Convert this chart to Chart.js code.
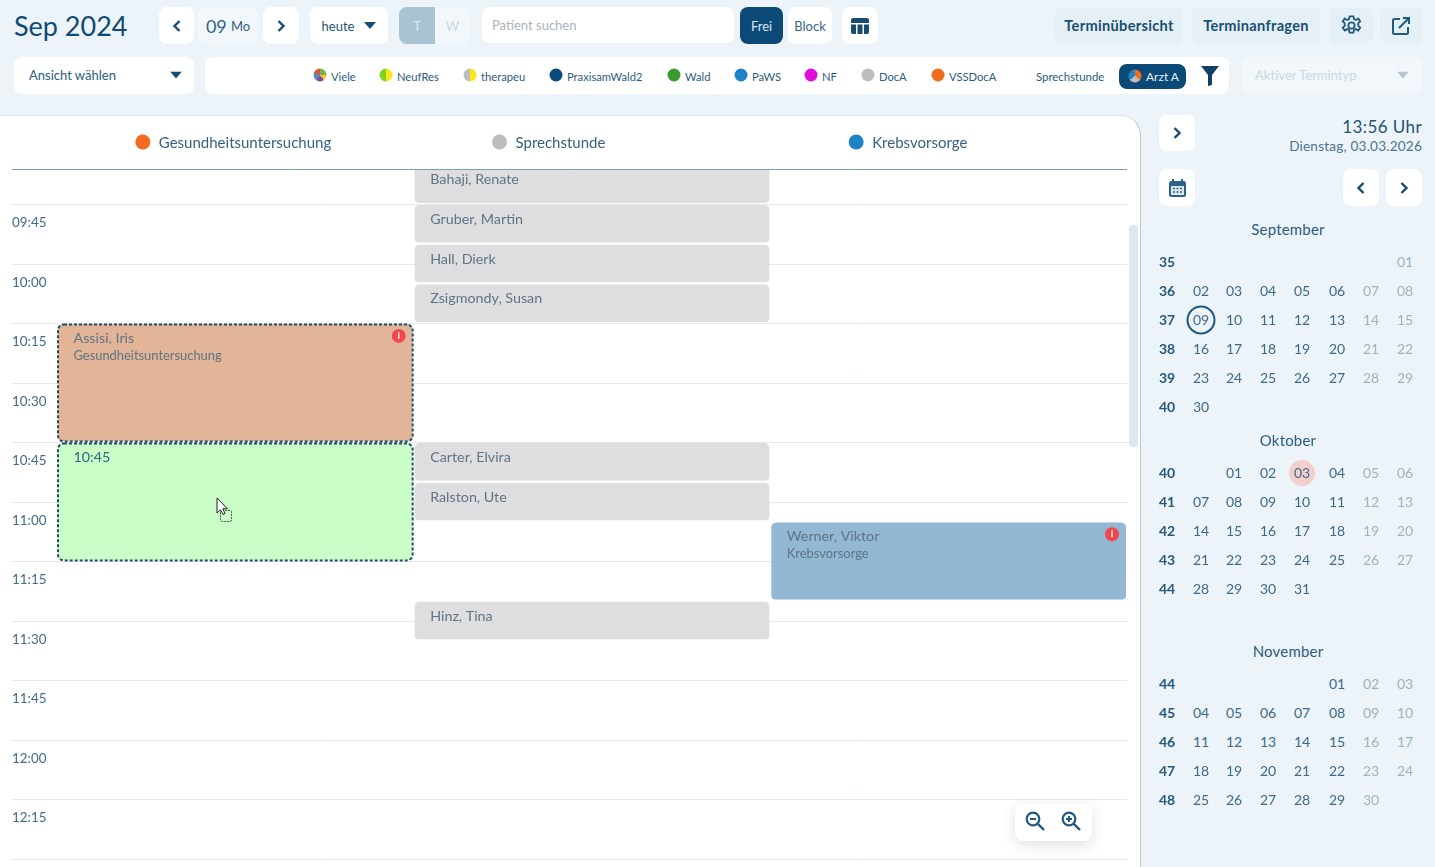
<!DOCTYPE html>
<html lang="de">
<head>
<meta charset="utf-8">
<title>Terminkalender</title>
<script src="https://cdn.jsdelivr.net/npm/chart.js@4/dist/chart.umd.min.js"></script>
<style>
  html, body { margin: 0; padding: 0; width: 1435px; height: 867px; overflow: hidden; background: #edf4f9; font-family: Lato, sans-serif; color: #1f5375; }
  .b { position: absolute; display: flex; align-items: center; justify-content: center; box-sizing: border-box; white-space: nowrap; border-radius: 8px; }
  .w { background: #fff; }
  .l { background: #f2f7fb; }
  .m { background: #e4eff6; font-weight: 700; font-size: 14.600px; letter-spacing: .3px; color: #1a4f72; }
  .t { position: absolute; white-space: nowrap; transform: translateY(-50%); }
  .c { transform: translate(-50%, -50%); }
  .dot { position: absolute; width: 14px; height: 14px; border-radius: 50%; transform: translate(-50%, -50%); }
  #panel { position: absolute; left: 0; top: 115px; width: 1141px; height: 752px; background: #fff; border-right: 1px solid #b9c9d5; border-top: 1px solid #dbe4ea; border-top-right-radius: 20px; box-sizing: border-box; overflow: hidden; }
  #cal { position: absolute; left: 0; top: 115px; }
  svg { display: block; }
</style>
</head>
<body>
<div id="panel"></div>
<canvas id="cal" width="1140" height="752"></canvas>
<div id="ui"></div>
<script>
'use strict';

// ---------- chart data (minutes since midnight) ----------
const columns = ['Gesundheitsuntersuchung', 'Sprechstunde', 'Krebsvorsorge'];
const columnDots = ['#f26a1b', '#bdbdbd', '#1e82c8'];
const tickMinutes = [585, 600, 615, 630, 645, 660, 675, 690, 705, 720, 735, 750];
const tickLabels = ['09:45', '10:00', '10:15', '10:30', '10:45', '11:00', '11:15', '11:30', '11:45', '12:00', '12:15', '12:30'];

const gesundNames = ['Assisi, Iris'];
const gesundStart = [615];
const gesundEnd = [645];

const neuLabel = ['10:45'];
const neuStart = [645];
const neuEnd = [675];

const sprechNames = ['Bahaji, Renate', 'Gruber, Martin', 'Hall, Dierk', 'Zsigmondy, Susan', 'Carter, Elvira', 'Ralston, Ute', 'Hinz, Tina'];
const sprechStart = [575, 585, 595, 605, 645, 655, 685];
const sprechEnd = [585, 595, 605, 615, 655, 665, 695];

const krebsNames = ['Werner, Viktor'];
const krebsStart = [665];
const krebsEnd = [685];

// ---------- mini calendar data ----------
const sepWeeks = ['35', '36', '37', '38', '39', '40'];
const sepDays = [
  ['', '', '', '', '', '', '01'],
  ['02', '03', '04', '05', '06', '07', '08'],
  ['09', '10', '11', '12', '13', '14', '15'],
  ['16', '17', '18', '19', '20', '21', '22'],
  ['23', '24', '25', '26', '27', '28', '29'],
  ['30', '', '', '', '', '', ''],
];
const octWeeks = ['40', '41', '42', '43', '44'];
const octDays = [
  ['', '01', '02', '03', '04', '05', '06'],
  ['07', '08', '09', '10', '11', '12', '13'],
  ['14', '15', '16', '17', '18', '19', '20'],
  ['21', '22', '23', '24', '25', '26', '27'],
  ['28', '29', '30', '31', '', '', ''],
];
const novWeeks = ['44', '45', '46', '47', '48'];
const novDays = [
  ['', '', '', '', '01', '02', '03'],
  ['04', '05', '06', '07', '08', '09', '10'],
  ['11', '12', '13', '14', '15', '16', '17'],
  ['18', '19', '20', '21', '22', '23', '24'],
  ['25', '26', '27', '28', '29', '30', ''],
];

const legendItems = [
  ['Viele', 320, 'conic-gradient(#7bb241 0 25%, #f2c53d 0 40%, #8e44ad 0 60%, #4a90c2 0 80%, #d5533f 0 100%)'],
  ['NeufRes', 386, 'linear-gradient(90deg, #7ed321 50%, #f8e71c 50%)'],
  ['therapeu', 470, 'linear-gradient(90deg, #bdbdbd 50%, #f8e71c 50%)'],
  ['PraxisamWald2', 556, '#0b4a78'],
  ['Wald', 674, '#3a9a32'],
  ['PaWS', 741, '#1e82c8'],
  ['NF', 811, '#e010d8'],
  ['DocA', 868, '#bdbdbd'],
  ['VSSDocA', 938, '#f26a1b'],
];

// ---------- page chrome ----------
const ui = document.getElementById('ui');
const box = (x, y, w, h, cls, html = '', style = '') => {
  ui.insertAdjacentHTML('beforeend',
    `<div class="b ${cls}" style="left:${x}px;top:${y}px;width:${w}px;height:${h}px;${style}">${html}</div>`);
};
const text = (x, y, str, style = '', cls = '') => {
  ui.insertAdjacentHTML('beforeend', `<div class="t ${cls}" style="left:${x}px;top:${y}px;${style}">${str}</div>`);
};
const right = (x, y, str, style = '') => {
  ui.insertAdjacentHTML('beforeend',
    `<div class="t" style="right:${1435 - x}px;top:${y}px;${style}">${str}</div>`);
};
const chev = (dir) => `<svg width="10" height="14" viewBox="0 0 10 14"><path d="${dir < 0 ? 'M7.5 2 L2.5 7 L7.5 12' : 'M2.5 2 L7.5 7 L2.5 12'}" fill="none" stroke="#174d72" stroke-width="2.4"/></svg>`;
const caret = (c = '#174d72') => `<svg width="12" height="7" viewBox="0 0 12 7"><path d="M0 0H12L6 7Z" fill="${c}"/></svg>`;

text(14, 25, 'Sep 2024', 'font-size:27px;color:#0f4a73;');
box(159, 7, 35, 37, 'w', chev(-1));
box(198, 7, 60, 37, 'l', '<span style="font-size:18px;color:#2f6285">09</span>&nbsp;<span style="font-size:13px;color:#2f6285">Mo</span>');
box(263, 7, 36, 37, 'w', chev(1));
box(310, 7, 78, 37, 'w', '<span style="font-size:13px;margin-right:10px">heute</span>' + caret());
box(399, 7, 36, 37, '', 'T', 'background:#a9c3d3;color:#dce8ef;font-size:13px;border-radius:8px 0 0 8px;');
box(435, 7, 35, 37, 'l', 'W', 'color:#ccd8e0;font-size:13px;border-radius:0 8px 8px 0;');
box(482, 7, 252, 36, 'w', 'Patient suchen', 'justify-content:flex-start;padding-left:10px;color:#a9b4bc;font-size:13px;');
box(740, 7, 43, 37, '', 'Frei', 'background:#0b4a78;color:#dbe7ef;font-size:13px;');
box(788, 7, 44, 37, 'w', 'Block', 'font-size:13px;color:#3a6686;');
box(842, 7, 36, 37, 'w', '<svg width="18" height="16" viewBox="0 0 18 16"><path d="M0 2a2 2 0 0 1 2-2H16a2 2 0 0 1 2 2V5H0ZM0 6.500H5V16H2a2 2 0 0 1-2-2ZM6.500 6.500H11.500V16H6.500ZM13 6.500H18V14a2 2 0 0 1-2 2H13Z" fill="#174d72"/></svg>');
box(1055, 7, 128, 37, 'm', 'Terminübersicht');
box(1192, 7, 128, 37, 'm', 'Terminanfragen');
box(1329, 7, 44, 37, 'm', '<svg width="23" height="23" viewBox="0 0 24 24"><path d="M10 2.500h4l.6 2.800 2 .9 2.500-1.500 2 3-2 1.900v2.800l2 1.900-2 3-2.500-1.500-2 .9-.6 2.800h-4l-.6-2.800-2-.9-2.500 1.500-2-3 2-1.900V9.600l-2-1.900 2-3 2.500 1.500 2-.9z" fill="none" stroke="#1f5a80" stroke-width="1.900"/><circle cx="12" cy="12" r="3.300" fill="none" stroke="#1f5a80" stroke-width="1.900"/></svg>');
box(1380, 7, 42, 37, 'm', '<svg width="20" height="20" viewBox="0 0 20 20"><path d="M9 3H3.500A1.500 1.500 0 0 0 2 4.500v12A1.500 1.500 0 0 0 3.500 18h12a1.500 1.500 0 0 0 1.500-1.500V11M8 12L18 2M12 2h6v6" fill="none" stroke="#1f5a80" stroke-width="2"/></svg>');

box(14, 57, 180, 37, 'w', '', '');
text(29, 75, 'Ansicht wählen', 'font-size:13px;color:#2a5c7e;');
text(170, 75, caret(), 'transform:translateY(-50%);');
box(205, 57, 1024, 37, 'w');
for (const [name, cx, bg] of legendItems) {
  ui.insertAdjacentHTML('beforeend', `<div class="dot" style="left:${cx}px;top:75px;background:${bg};width:13px;height:13px"></div>`);
  text(cx + 11, 76, name, 'font-size:11.200px;color:#2a5c7e;');
}
text(1036, 76, 'Sprechstunde', 'font-size:11.400px;color:#2a5c7e;');
box(1119, 64, 67, 25, '', '', 'background:#0b4a78;');
ui.insertAdjacentHTML('beforeend', '<div class="dot" style="left:1135px;top:76px;width:13px;height:13px;background:conic-gradient(#f26a1b 0 35%, #bdbdbd 0 65%, #1e82c8 0 100%)"></div>');
text(1146, 76, 'Arzt A', 'font-size:12px;color:#e4eef4;');
box(1200, 65, 20, 22, '', '<svg width="18" height="20" viewBox="0 0 18 20"><path d="M0 0H18L11 9V19L7 20V9Z" fill="#123f63"/></svg>');
box(1242, 57, 180, 37, 'l', '');
text(1255, 75, 'Aktiver Termintyp', 'font-size:13px;color:#ccd8e0;');
text(1397, 75, caret('#b6c6d1'), '');

// scrollbar and zoom buttons
box(1129, 225, 9, 222, '', '', 'background:#dfe8ef;border-radius:4px;');
box(1015, 804, 77, 37, 'w', '', 'box-shadow:0 4px 14px rgba(40,70,90,.16);');
const loupe = (plus) => `<svg width="20" height="20" viewBox="0 0 20 20"><circle cx="8" cy="8" r="6.300" fill="none" stroke="#1f5a80" stroke-width="2.200"/><path d="M12.800 12.800L19 19" stroke="#1f5a80" stroke-width="2.400"/><path d="M5 8H11${plus ? 'M8 5V11' : ''}" stroke="#1f5a80" stroke-width="2"/></svg>`;
box(1025, 811, 20, 20, '', loupe(false));
box(1061, 811, 20, 20, '', loupe(true));

// cursor over the green slot
ui.insertAdjacentHTML('beforeend', '<svg style="position:absolute;left:214px;top:496px" width="22" height="30" viewBox="0 0 22 30"><rect x="6.500" y="14.500" width="11" height="11" rx="1.500" fill="none" stroke="#555" stroke-dasharray="2 1"/><path d="M3 2V17L6.500 13.800 9 18.500 11 17.500 8.800 12.800H13.500Z" fill="#fff" stroke="#222" stroke-width="1"/></svg>');

// ---------- right sidebar ----------
box(1159, 115, 36, 36, 'w', chev(1));
right(1422, 126, '13:56 Uhr', 'font-size:17px;letter-spacing:.4px;color:#1f5375;');
right(1422, 146, 'Dienstag, 03.03.2026', 'font-size:13.600px;letter-spacing:.2px;color:#4a7490;');
box(1159, 169, 36, 37, 'w', '<svg width="17" height="18" viewBox="0 0 17 18"><path d="M4 0V3M13 0V3" stroke="#2b6286" stroke-width="2"/><rect x="0" y="2" width="17" height="16" rx="2.500" fill="#2b6286"/><rect x="2" y="7" width="13" height="9" fill="#dbe7ef"/><path d="M4 9.500H13M4 13H13" stroke="#2b6286" stroke-width="1.600" stroke-dasharray="2 1.500"/></svg>');
box(1343, 169, 36, 37, 'w', chev(-1));
box(1386, 169, 36, 37, 'w', chev(1));

const dayX = [1201, 1234, 1268, 1302, 1337, 1371, 1405];
function month(title, titleY, firstRowY, weeks, rows) {
  text(1288, titleY, title, 'font-size:15px;letter-spacing:.2px;color:#2a5c7e;', 'c');
  weeks.forEach((w, r) => {
    const y = firstRowY + r * 29;
    text(1167, y, w, 'font-size:14px;font-weight:700;color:#255a7d;', 'c');
    rows[r].forEach((d, i) => {
      if (!d) return;
      text(dayX[i], y, d, `font-size:14px;color:${i >= 5 ? '#9db3c2' : '#3d6a88'};`, 'c');
    });
  });
}
// highlight circles go under the day numbers
ui.insertAdjacentHTML('beforeend', '<div class="dot" style="left:1201px;top:320px;width:29px;height:29px;box-sizing:border-box;background:#edf4f9;border:2px solid #1a5a80"></div>');
ui.insertAdjacentHTML('beforeend', '<div class="dot" style="left:1302px;top:473px;width:26px;height:26px;background:#f3cfcc"></div>');
month('September', 229, 261, sepWeeks, sepDays);
month('Oktober', 440, 472, octWeeks, octDays);
month('November', 651, 683, novWeeks, novDays);

// ---------- calendar chart ----------
const toBars = (col, start, end) => start.map((s, i) => ({ x: columns[col], y: [s, end[i]] }));
const bar = (label, data, color, names) => ({
  label, data, names, backgroundColor: color, borderColor: 'transparent',
  borderWidth: { top: 0, right: 1, bottom: 2, left: 1 },
  borderSkipped: false, borderRadius: 6, inflateAmount: 0, grouped: false,
  categoryPercentage: 1, barPercentage: 1,
});

const FONT = 'Lato, sans-serif';
const calendarMarks = {
  id: 'calendarMarks',
  afterDraw(chart) {
    const { ctx, scales: { x }, chartArea } = chart;
    ctx.save();
    // header rule reaches over the time column
    ctx.strokeStyle = '#7a9cb0';
    ctx.lineWidth = 1;
    ctx.beginPath();
    ctx.moveTo(12, chartArea.top - 0.5);
    ctx.lineTo(chartArea.right, chartArea.top - 0.5);
    ctx.stroke();
    // header dots
    columns.forEach((c, i) => {
      ctx.fillStyle = columnDots[i];
      ctx.beginPath();
      ctx.arc(x.getPixelForTick(i) - 92.5, 27, 7.5, 0, Math.PI * 2);
      ctx.fill();
    });
    // dashed outline of the two selected slots
    [0, 1].forEach((di) => {
      chart.getDatasetMeta(di).data.forEach((el) => {
        const top = Math.min(el.y, el.base);
        ctx.strokeStyle = '#1d4e69';
        ctx.lineWidth = 2;
        ctx.setLineDash([3, 2]);
        ctx.beginPath();
        ctx.roundRect(el.x - el.width / 2 + 1, top + 0.5, el.width - 2, el.height - 2, 6);
        ctx.stroke();
        ctx.setLineDash([]);
      });
    });
    // slot labels
    ctx.save();
    ctx.beginPath();
    ctx.rect(chartArea.left, chartArea.top, chartArea.width, chartArea.height);
    ctx.clip();
    ctx.textBaseline = 'middle';
    chart.data.datasets.forEach((ds, di) => {
      chart.getDatasetMeta(di).data.forEach((el, i) => {
        const top = Math.min(el.y, el.base);
        const left = el.x - el.width / 2 + 16.5;
        ctx.fillStyle = ds.label === 'neu' ? '#2c6a80' : '#5f7484';
        ctx.font = `14.3px ${FONT}`;
        ctx.fillText(ds.names[i], left, top + 14.5);
        if (ds.label === 'gesund' || ds.label === 'krebs') {
          ctx.font = `12.9px ${FONT}`;
          ctx.fillText(columns[di === 0 ? 0 : 2], left, top + 32);
          const cx = el.x + el.width / 2 - 15;
          ctx.fillStyle = '#f3474f';
          ctx.beginPath();
          ctx.arc(cx, top + 12, 7, 0, Math.PI * 2);
          ctx.fill();
          ctx.fillStyle = '#fff';
          ctx.textAlign = 'center';
          ctx.font = `bold 10px ${FONT}`;
          ctx.fillText('i', cx, top + 12);
          ctx.textAlign = 'left';
        }
      });
    });
    ctx.restore();
    ctx.restore();
  },
};

new Chart(document.getElementById('cal').getContext('2d'), {
  type: 'bar',
  data: {
    labels: columns,
    datasets: [
      bar('gesund', toBars(0, gesundStart, gesundEnd), '#e2b498', gesundNames),
      bar('neu', toBars(0, neuStart, neuEnd), 'rgba(195,253,192,0.88)', neuLabel),
      bar('sprech', toBars(1, sprechStart, sprechEnd), '#dedee1', sprechNames),
      bar('krebs', toBars(2, krebsStart, krebsEnd), '#92b8d4', krebsNames),
    ],
  },
  options: {
    responsive: false,
    animation: false,
    devicePixelRatio: 1,
    events: [],
    layout: { padding: { left: 12, right: 13, top: 0, bottom: 0 } },
    plugins: { legend: { display: false }, tooltip: { enabled: false } },
    scales: {
      x: {
        position: 'top',
        afterFit: (s) => { s.height = 55; s.paddingLeft = 0; s.paddingRight = 0; },
        grid: { display: false },
        border: { display: false },
        ticks: { align: 'start', labelOffset: -76.5, padding: 10, color: '#356283', font: { family: FONT, size: 15 }, maxRotation: 0 },
      },
      y: {
        reverse: true,
        min: 576.2,
        max: 751.9,
        afterFit: (s) => { s.width = 45; s.paddingTop = 0; s.paddingBottom = 0; },
        afterBuildTicks: (s) => { s.ticks = tickMinutes.map((value) => ({ value })); },
        grid: { color: '#e3e8ec', lineWidth: 1, tickLength: 45 },
        border: { display: false },
        ticks: {
          autoSkip: false, crossAlign: 'far', labelOffset: 18, color: '#3f6c88',
          font: { family: FONT, size: 13.4 },
          callback: (v, i) => tickLabels[i],
        },
      },
    },
  },
  plugins: [calendarMarks],
});
</script>
</body>
</html>
